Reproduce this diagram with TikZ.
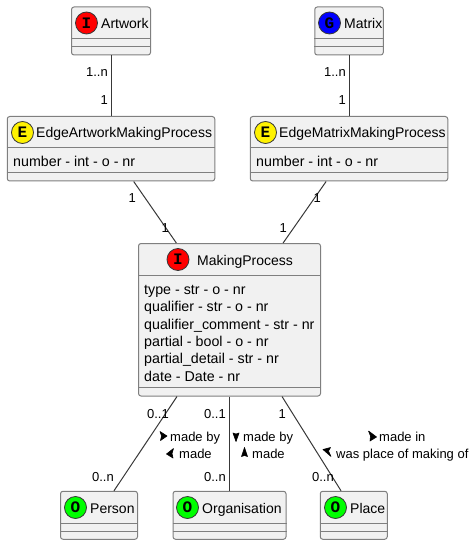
\documentclass[tikz,border=0pt]{standalone}
\usepackage{fontspec}
\setmainfont{Liberation Sans}
\newfontfamily\iconfont{Liberation Mono}
\definecolor{boxfill}{HTML}{F1F1F1}
\definecolor{boxline}{HTML}{7F7F7F}
\definecolor{linkline}{HTML}{383838}
\tikzset{
  umlbox/.style={draw=boxline, fill=boxfill, line width=1pt, rounded corners=2.5pt, inner sep=0pt},
  sepline/.style={draw=boxline, line width=1pt},
  icon/.style={circle, draw=linkline, line width=0.8pt, minimum size=22pt, inner sep=0pt, font=\iconfont\bfseries\fontsize{16}{16}\selectfont},
  title/.style={anchor=base west, inner sep=0pt, font=\fontsize{14}{14}\selectfont},
  attr/.style={anchor=base west, inner sep=0pt, font=\fontsize{14.25}{14.25}\selectfont},
  mult/.style={anchor=base east, inner sep=0pt, font=\fontsize{13}{13}\selectfont},
  rolelabel/.style={anchor=base west, inner sep=0pt, font=\fontsize{13}{13}\selectfont},
  rolemark/.style={fill=black, draw=black, line width=0.6pt, line join=round},
  link/.style={draw=linkline, line width=1pt},
}
\begin{document}
\begin{tikzpicture}[x=1pt, y=-1pt]
  \useasboundingbox (0,0) rectangle (475,545);

  % top row
  \node[umlbox, minimum width=79pt, minimum height=48pt] (artwork) at (111,31) {};
  \node[umlbox, minimum width=68.5pt, minimum height=48pt] (matrix) at (349,31) {};

  % edge classes
  \node[umlbox, minimum width=207.5pt, minimum height=64.5pt] (edgeArtwork) at (111,148.75) {};
  \node[umlbox, minimum width=197.5pt, minimum height=64.5pt] (edgeMatrix) at (349,148.75) {};

  % centre class
  \node[umlbox, minimum width=182pt, minimum height=152.5pt] (making) at (229.5,319.75) {};

  % bottom row
  \node[umlbox, minimum width=77pt, minimum height=48pt] (person) at (99,515.25) {};
  \node[umlbox, minimum width=113pt, minimum height=48pt] (organisation) at (229.5,515.25) {};
  \node[umlbox, minimum width=67pt, minimum height=48pt] (place) at (353.75,515.25) {};

  % compartments
  \foreach \boxname/\one/\two in {artwork/32.5/40.5, matrix/32.5/40.5, person/32.5/40.5, organisation/32.5/40.5, place/32.5/40.5, edgeArtwork/32/56.5, edgeMatrix/32/56.5, making/32/144.5} {
    \draw[sepline] ([yshift=-\one pt]\boxname.north west) -- ([yshift=-\one pt]\boxname.north east);
    \draw[sepline] ([yshift=-\two pt]\boxname.north west) -- ([yshift=-\two pt]\boxname.north east);
  }

  % icons
  \node[icon, fill=red] (iconArtwork) at (86.5,23) {I};
  \node[icon, fill=blue] (iconMatrix) at (329.5,23) {G};
  \node[icon, fill=yellow] (iconEdgeArtwork) at (22.5,132.5) {E};
  \node[icon, fill=yellow] (iconEdgeMatrix) at (265.5,132.5) {E};
  \node[icon, fill=red] (iconMaking) at (178,259.5) {I};
  \node[icon, fill=green] (iconPerson) at (75.5,507.5) {O};
  \node[icon, fill=green] (iconOrganisation) at (187.5,507.5) {O};
  \node[icon, fill=green] (iconPlace) at (335.5,507.5) {O};

  % titles
  \node[title] (titleArtwork) at (101,29) {Artwork};
  \node[title] (titleMatrix) at (344,29) {Matrix};
  \node[title] (titleEdgeArtwork) at (36,138) {EdgeArtworkMakingProcess};
  \node[title] (titleEdgeMatrix) at (279,138) {EdgeMatrixMakingProcess};
  \node[title] (titleMaking) at (197,265) {MakingProcess};
  \node[title] (titlePerson) at (90,513) {Person};
  \node[title] (titleOrganisation) at (202,513) {Organisation};
  \node[title] (titlePlace) at (350,513) {Place};

  % attributes
  \node[attr] (numberArtwork) at (13,167) {number - int - o - nr};
  \node[attr] (numberMatrix) at (256,167) {number - int - o - nr};
  \node[attr] (attrType) at (144,294) {type - str - o - nr};
  \node[attr] (attrQualifier) at (144,311) {qualifier - str - o - nr};
  \node[attr] (attrComment) at (144,329) {qualifier\_comment - str - nr};
  \node[attr] (attrPartial) at (144,346) {partial - bool - o - nr};
  \node[attr] (attrDetail) at (144,363) {partial\_detail - str - nr};
  \node[attr] (attrDate) at (144,381) {date - Date - nr};

  % connectors
  \draw[link] (artwork) -- (edgeArtwork);
  \draw[link] (matrix) -- (edgeMatrix);
  \draw[link] (edgeArtwork) -- (making);
  \draw[link] (edgeMatrix) -- (making);
  \draw[link] ([xshift=-52.5pt]making.south) -- ([xshift=15pt]person.north);
  \draw[link] (making) -- (organisation);
  \draw[link] ([xshift=52.5pt]making.south) -- ([xshift=-12.75pt]place.north);

  % multiplicities
  \node[mult] (multA) at (108,77) {1..n};
  \node[mult] (multB) at (108,105) {1};
  \node[mult] (multC) at (346,77) {1..n};
  \node[mult] (multD) at (346,105) {1};
  \node[mult] (multE) at (136,203) {1};
  \node[mult] (multF) at (169,232) {1};
  \node[mult] (multG) at (321,203) {1};
  \node[mult] (multH) at (287,232) {1};
  \node[mult] (multI) at (169,418) {0..1};
  \node[mult] (multJ) at (226,418) {0..1};
  \node[mult] (multK) at (286,418) {1};
  \node[mult] (multL) at (114,481) {0..n};
  \node[mult] (multM) at (226,481) {0..n};
  \node[mult] (multN) at (334,481) {0..n};

  % role labels
  \node[rolelabel] (madeByA) at (170,441) {made by};
  \node[rolelabel] (madeA) at (179,458) {made};
  \node[rolelabel] (madeByB) at (243,441) {made by};
  \node[rolelabel] (madeB) at (252,458) {made};
  \node[rolelabel] (madeIn) at (379,441) {made in};
  \node[rolelabel] (placeOf) at (336,458) {was place of making of};

  % role marks
  \filldraw[rolemark] (160,431.5) -- (167,436) -- (160.5,440.5) -- (161.5,436) -- cycle;
  \filldraw[rolemark] (166.5,454) -- (173.5,448.5) -- (172,453.5) -- (173,458) -- cycle;
  \filldraw[rolemark] (233,433) -- (236,441.5) -- (239,433) -- (236,434) -- cycle;
  \filldraw[rolemark] (244.5,447.5) -- (247.5,456.5) -- (244.5,455.5) -- (241.5,456.5) -- cycle;
  \filldraw[rolemark] (368.5,431) -- (376.5,437) -- (370,441) -- (370.5,436) -- cycle;
  \filldraw[rolemark] (323,449.5) -- (330.5,447.5) -- (328.5,451) -- (331,456.5) -- cycle;
\end{tikzpicture}
\end{document}
